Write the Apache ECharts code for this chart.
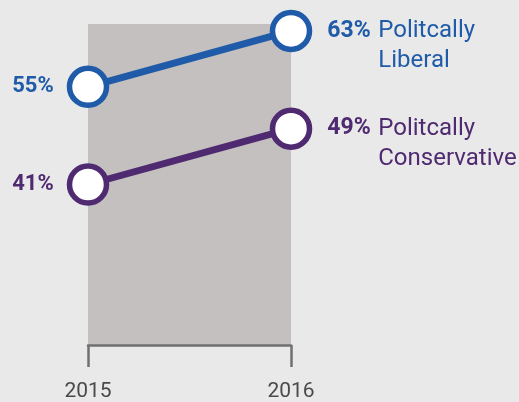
<!DOCTYPE html>
<html>
<head>
<meta charset="utf-8">
<script src="https://cdn.jsdelivr.net/npm/echarts@6/dist/echarts.min.js"></script>
<style>
    html, body { margin: 0; padding: 0; background: #e9e9e9; }
    #chart { width: 519px; height: 402px; }
</style>
</head>
<body>
<div id="chart"></div>
<script>
var years = ['2015', '2016'];
var liberal = [55, 63];
var conservative = [41, 49];
var seriesNames = ['Politcally Liberal', 'Politcally Conservative'];

var blue = '#1f5ba8';
var purple = '#4f2a70';
var font = 'Roboto';

// label on the first point sits left, the last one gets the name on the right
function makeData(values, color, line1, line2) {
    return values.map(function (v, i) {
        var last = i === values.length - 1;
        return {
            value: v,
            label: last ? {
                show: true,
                position: 'right',
                distance: 15,
                offset: [0, 15],
                formatter: '{b|' + v + '%}{n|' + line1 + '}\n{sp|}{n|' + line2 + '}',
                rich: {
                    b: {fontFamily: font, fontWeight: 'bold', fontSize: 23, color: color, lineHeight: 30, width: 51},
                    n: {fontFamily: font, fontSize: 24, color: color, lineHeight: 30},
                    sp: {width: 51, lineHeight: 30}
                }
            } : {
                show: true,
                position: 'left',
                distance: 13,
                formatter: v + '%',
                fontFamily: font,
                fontWeight: 'bold',
                fontSize: 22,
                color: color
            }
        };
    });
}

function lineSeries(name, values, color, line1, line2) {
    return {
        name: name,
        type: 'line',
        data: makeData(values, color, line1, line2),
        symbol: 'circle',
        symbolSize: 37,
        showAllSymbol: true,
        lineStyle: {color: color, width: 7},
        itemStyle: {color: '#ffffff', borderColor: color, borderWidth: 5.5},
        emphasis: {disabled: true}
    };
}

var chart = echarts.init(document.getElementById('chart'));
chart.setOption({
    backgroundColor: '#e9e9e9',
    animation: false,
    grid: {
        left: 88, right: 228, top: 24, bottom: 50,
        show: true, backgroundColor: '#c4c0bf', borderWidth: 0
    },
    xAxis: {
        type: 'category',
        data: years,
        boundaryGap: false,
        axisLine: {lineStyle: {color: '#707070', width: 2.5}},
        axisTick: {show: true, length: 22, lineStyle: {color: '#707070', width: 2.5}},
        axisLabel: {fontFamily: font, fontSize: 21, color: '#4a4a4a', margin: 36},
        splitLine: {show: false}
    },
    yAxis: {
        type: 'value',
        min: 18,
        max: 64,
        show: false
    },
    series: [
        lineSeries(seriesNames[0], liberal, blue, 'Politcally', 'Liberal'),
        lineSeries(seriesNames[1], conservative, purple, 'Politcally', 'Conservative')
    ]
});
</script>
</body>
</html>
